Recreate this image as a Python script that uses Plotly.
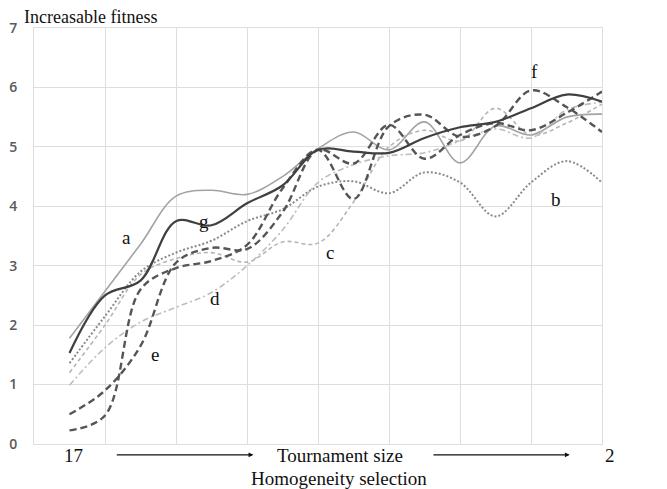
import plotly.graph_objects as go

# x positions: tournament size 17 -> 2 (16 settings)
sizes = list(range(17, 1, -1))
idx = list(range(len(sizes)))

a = [1.78, 2.57, 3.36, 4.17, 4.27, 4.20, 4.50, 4.97, 5.25, 4.95, 5.42, 4.73, 5.35, 5.20, 5.50, 5.55]
b = [1.36, 2.15, 2.90, 3.22, 3.42, 3.75, 3.95, 4.33, 4.42, 4.22, 4.57, 4.40, 3.83, 4.40, 4.76, 4.40]
c = [1.20, 2.00, 2.85, 3.12, 3.22, 3.06, 3.40, 3.38, 4.07, 5.00, 5.28, 5.10, 5.65, 5.20, 5.40, 5.72]
d = [0.99, 1.62, 2.05, 2.30, 2.55, 3.00, 3.60, 4.40, 4.70, 4.85, 4.90, 5.10, 5.30, 5.15, 5.62, 5.75]
e = [0.50, 0.90, 1.65, 3.05, 3.30, 3.28, 3.90, 4.95, 4.72, 5.37, 4.80, 5.20, 5.40, 5.28, 5.57, 5.93]
f = [0.23, 0.48, 2.60, 2.96, 3.08, 3.35, 4.30, 4.95, 4.12, 5.35, 5.54, 5.17, 5.35, 5.95, 5.67, 5.25]
g = [1.53, 2.50, 2.75, 3.75, 3.68, 4.05, 4.35, 4.95, 4.92, 4.90, 5.15, 5.33, 5.42, 5.65, 5.88, 5.76]

series = [
    ("a", a, dict(color="#a3a3a3", width=1.6)),
    ("b", b, dict(color="#8a8a8a", width=2, dash="2px,2px")),
    ("c", c, dict(color="#b5b5b5", width=1.6, dash="4px,3px")),
    ("d", d, dict(color="#bdbdbd", width=1.6, dash="6px,3px,2px,3px")),
    ("e", e, dict(color="#555555", width=2.4, dash="7px,4px")),
    ("f", f, dict(color="#555555", width=2.4, dash="7px,4px")),
    ("g", g, dict(color="#404040", width=2.2)),
]

fig = go.Figure()
for name, ys, ln in series:
    fig.add_trace(go.Scatter(x=idx, y=ys, mode="lines", name=name,
                             line=dict(shape="spline", smoothing=1.0, **ln),
                             showlegend=False, hoverinfo="skip"))

serif = "Liberation Serif, Times New Roman, serif"
labels = [("a", 1.6, 3.47), ("g", 3.8, 3.75), ("d", 4.1, 2.45), ("c", 7.35, 3.22),
          ("e", 2.4, 1.5), ("f", 13.1, 6.27), ("b", 13.7, 4.12)]
for t, xv, yv in labels:
    fig.add_annotation(x=xv, y=yv, text=t, showarrow=False,
                       font=dict(family=serif, size=19, color="#111"))

ann_font = dict(family=serif, size=19, color="#111")
fig.add_annotation(xref="paper", yref="paper", x=-0.022, y=1.027, xanchor="left", yanchor="middle",
                   text="Increasable fitness", showarrow=False,
                   font=dict(family=serif, size=18, color="#111"))
row1 = -0.028
row2 = -0.083
fig.add_annotation(x=0.1, yref="paper", y=row1, xanchor="center", yanchor="middle",
                   text=str(sizes[0]), showarrow=False, font=ann_font)
fig.add_annotation(xref="paper", x=1.014, yref="paper", y=row1, xanchor="center", yanchor="middle",
                   text=str(sizes[-1]), showarrow=False, font=ann_font)
fig.add_annotation(x=7.62, yref="paper", y=row1, xanchor="center", yanchor="middle",
                   text="Tournament size", showarrow=False, font=ann_font)
fig.add_annotation(x=7.6, yref="paper", y=row2, xanchor="center", yanchor="middle",
                   text="Homogeneity selection", showarrow=False, font=ann_font)
unit = 568 / 16.0
for x0, x1 in [(1.29, 5.18), (10.21, 14.09)]:
    fig.add_annotation(x=x1, yref="paper", y=row1 + 0.002, ax=-(x1 - x0) * unit, ay=0,
                       showarrow=True, arrowhead=2, arrowsize=0.8, arrowwidth=1.2,
                       arrowcolor="#111", text="")

grid = "#dedede"
# the page body adds an 8px offset, so the figure is sized to fill the remaining window
fig.update_layout(
    width=659, height=481,
    margin=dict(l=26, r=65, t=20, b=45),
    paper_bgcolor="white", plot_bgcolor="white",
    xaxis=dict(range=[-1, 15], tickvals=list(range(-1, 16, 2)), showticklabels=False,
               showgrid=True, gridcolor=grid, gridwidth=1, zeroline=False, automargin=False,
               showline=True, linecolor=grid, mirror=True, ticks=""),
    yaxis=dict(range=[0, 7], dtick=1, showgrid=True, gridcolor=grid, gridwidth=1,
               zeroline=False, showline=True, linecolor=grid, mirror=True, automargin=False,
               ticks="outside", ticklen=13, tickcolor="rgba(0,0,0,0)",
               tickfont=dict(family="Open Sans, sans-serif", size=14, color="#595959",
                             weight=600)),
)
fig.write_html("out.html")
